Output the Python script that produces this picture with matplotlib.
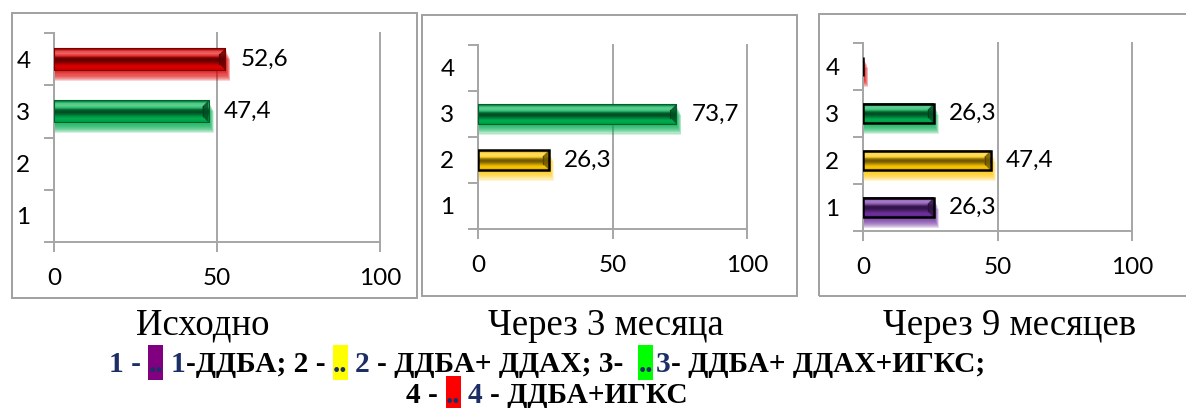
import numpy as np
import matplotlib
matplotlib.use("Agg")
import matplotlib.pyplot as plt
from matplotlib.patches import Rectangle, Polygon
from matplotlib.colors import to_rgb

W, H = 1186, 408

categories = [1, 2, 3, 4]
titles = ["Исходно", "Через 3 месяца", "Через 9 месяцев"]
initial = [np.nan, np.nan, 47.4, 52.6]
after_3m = [np.nan, 26.3, 73.7, np.nan]
after_9m = [26.3, 47.4, 26.3, 0.0]
panel_values = [initial, after_3m, after_9m]
bar_colors = ["#7030A0", "#FFC800", "#00B050", "#E00000"]
x_ticks = [0, 50, 100]

NAVY = "#1B2F66"
GRID = "#A6A6A6"
TICK_SIZE = 17.5

# black outline on some bars, per panel
outlined = [[], [2], [1, 2, 3, 4]]

# layout in pixels: axes (left, top, right, bottom) and panel frames
axes_px = [(54, 33, 380, 242), (478, 45, 747, 229), (863, 43, 1132, 231)]
frames_px = [(12, 13, 417, 298), (422, 15, 797, 296), (819, 14, 1195, 296)]
title_x = [203, 606, 1010]


def fx(x):
    return x / W


def fy(y):
    return 1 - y / H


def shade(c, k):
    return tuple(np.array(to_rgb(c)) * k)


def tint(c, k):
    c = np.array(to_rgb(c))
    return tuple(c + (1 - c) * k)


def glossy_bar(ax, patch, color, outline):
    x, y = patch.get_x(), patch.get_y()
    w, h = patch.get_width(), patch.get_height()
    px_per_x = ax.bbox.width / 100.0
    px_per_y = ax.bbox.height / 4.0
    # soft glow underneath
    for k in range(1, 11):
        ax.add_patch(Rectangle((x, y - 1.1 * k / px_per_y), w + 0.5 * k / px_per_x, h,
                               facecolor=color, edgecolor="none", alpha=0.17, zorder=2))
    if w > 0:
        rows = [shade(color, 0.72), tint(color, 0.3), tint(color, 0.38), tint(color, 0.18),
                shade(color, 0.55), shade(color, 0.42), shade(color, 0.6), shade(color, 0.85),
                to_rgb(color), shade(color, 0.9)]
        img = np.array(rows, dtype=float)[:, None, :]
        ax.imshow(img, extent=(x, x + w, y, y + h), origin="upper", aspect="auto",
                  interpolation="bilinear", zorder=3)
        # bevel at the right end
        b = 6 / px_per_x
        bv = 6 / px_per_y
        ax.add_patch(Polygon([(x + w - b, y + h - bv), (x + w, y + h), (x + w, y), (x + w - b, y + bv)],
                             closed=True, facecolor=shade(color, 0.45), edgecolor="none", alpha=0.85, zorder=4))
        ax.plot([x + w - b, x + w - b], [y + bv, y + h - bv], color=shade(color, 0.35), lw=0.8, zorder=4)
    ec = "black" if outline else shade(color, 0.55)
    lw = 1.8 if outline else 0.8
    ax.add_patch(Rectangle((x, y), w, h, facecolor="none", edgecolor=ec, lw=lw, zorder=5))


fig = plt.figure(figsize=(W / 100, H / 100), dpi=100)

# panel frames
for (l, t, r, b) in frames_px:
    fig.add_artist(Rectangle((fx(l), fy(b)), fx(r - l), (b - t) / H, transform=fig.transFigure,
                             facecolor="none", edgecolor="#A0A0A0", lw=1.4))

for i, vals in enumerate(panel_values):
    l, t, r, b = axes_px[i]
    ax = fig.add_axes([fx(l), fy(b), fx(r - l), (b - t) / H])
    ax.set_xlim(0, 100)
    ax.set_ylim(0.5, 4.5)
    ax.set_autoscale_on(False)

    bars = ax.barh(categories, np.nan_to_num(vals), height=0.42, color="none")
    for cat, v, patch in zip(categories, vals, bars):
        if np.isnan(v):
            continue
        glossy_bar(ax, patch, bar_colors[cat - 1], cat in outlined[i])
        if v > 0:
            ax.annotate(f"{v:.1f}".replace(".", ","), xy=(v, cat), xytext=(11, 0),
                        textcoords="offset points", va="center", ha="left",
                        fontsize=TICK_SIZE, family="Lato", color="black", zorder=6)

    for s in ["top", "right"]:
        ax.spines[s].set_visible(False)
    for s in ["left", "bottom"]:
        ax.spines[s].set_color(GRID)
        ax.spines[s].set_linewidth(1.4)

    ax.set_xticks(x_ticks)
    ax.set_xticklabels([str(v) for v in x_ticks], family="Lato", fontsize=TICK_SIZE)
    ax.tick_params(axis="x", length=7, width=1.4, color=GRID, pad=12)
    ax.set_yticks([0.5, 1.5, 2.5, 3.5, 4.5])
    ax.set_yticklabels([])
    ax.set_yticks(categories, minor=True)
    ax.set_yticklabels([str(c) for c in categories], minor=True, family="Lato", fontsize=TICK_SIZE)
    ax.tick_params(axis="y", which="major", length=7, width=1.4, color=GRID)
    ax.tick_params(axis="y", which="minor", length=0, pad=17)
    ax.grid(axis="x", color=GRID, lw=1.4)
    ax.set_axisbelow(True)
    for gl in ax.get_xgridlines():
        gl.set_clip_on(False)

    fig.text(fx(title_x[i]), fy(335), titles[i], ha="center", va="baseline",
             family="Liberation Serif", fontsize=26.5, color="black")

# legend lines built piece by piece
renderer = fig.canvas.get_renderer()
LEG_SIZE = 21.2


def measure(s):
    t = fig.text(0, 0, s, fontsize=LEG_SIZE, family="Liberation Serif", fontweight="bold")
    w = t.get_window_extent(renderer).width
    t.remove()
    return w


space_w = measure("a a") - measure("aa")
BOX_W = 15


def legend_line(pieces, cx, base, box_bottom):
    widths = []
    for kind, s, col, gap in pieces:
        widths.append((BOX_W if kind == "box" else measure(s)) + gap * space_w)
    x = cx - sum(widths) / 2
    for (kind, s, col, gap), w in zip(pieces, widths):
        if kind == "box":
            fig.add_artist(Rectangle((fx(x), fy(box_bottom)), BOX_W / W, (box_bottom - base + 27) / H,
                                     transform=fig.transFigure, facecolor=col, edgecolor="none"))
            fig.text(fx(x + BOX_W / 2), fy(base), "..", ha="center", va="baseline", color=NAVY,
                     fontsize=LEG_SIZE, family="Liberation Serif", fontweight="bold")
        else:
            fig.text(fx(x), fy(base), s, ha="left", va="baseline", color=col,
                     fontsize=LEG_SIZE, family="Liberation Serif", fontweight="bold")
        x += w


line1 = [
    ("text", "1 -", NAVY, 1), ("box", "", "#800080", 1), ("text", "1", NAVY, 0),
    ("text", "-ДДБА; 2 -", "black", 1), ("box", "", "#FFFF00", 1), ("text", "2", NAVY, 1),
    ("text", "- ДДБА+ ДДАХ; 3-", "black", 2), ("box", "", "#00FF00", 0.4), ("text", "3", NAVY, 0),
    ("text", "- ДДБА+ ДДАХ+ИГКС;", "black", 0),
]
line2 = [
    ("text", "4 -", "black", 1), ("box", "", "#FF0000", 1), ("text", "4", NAVY, 1),
    ("text", "- ДДБА+ИГКС", "black", 0),
]
legend_line(line1, 547, 372, 380)
legend_line(line2, 547, 403, 408)

fig.savefig("out.png", dpi=100)
